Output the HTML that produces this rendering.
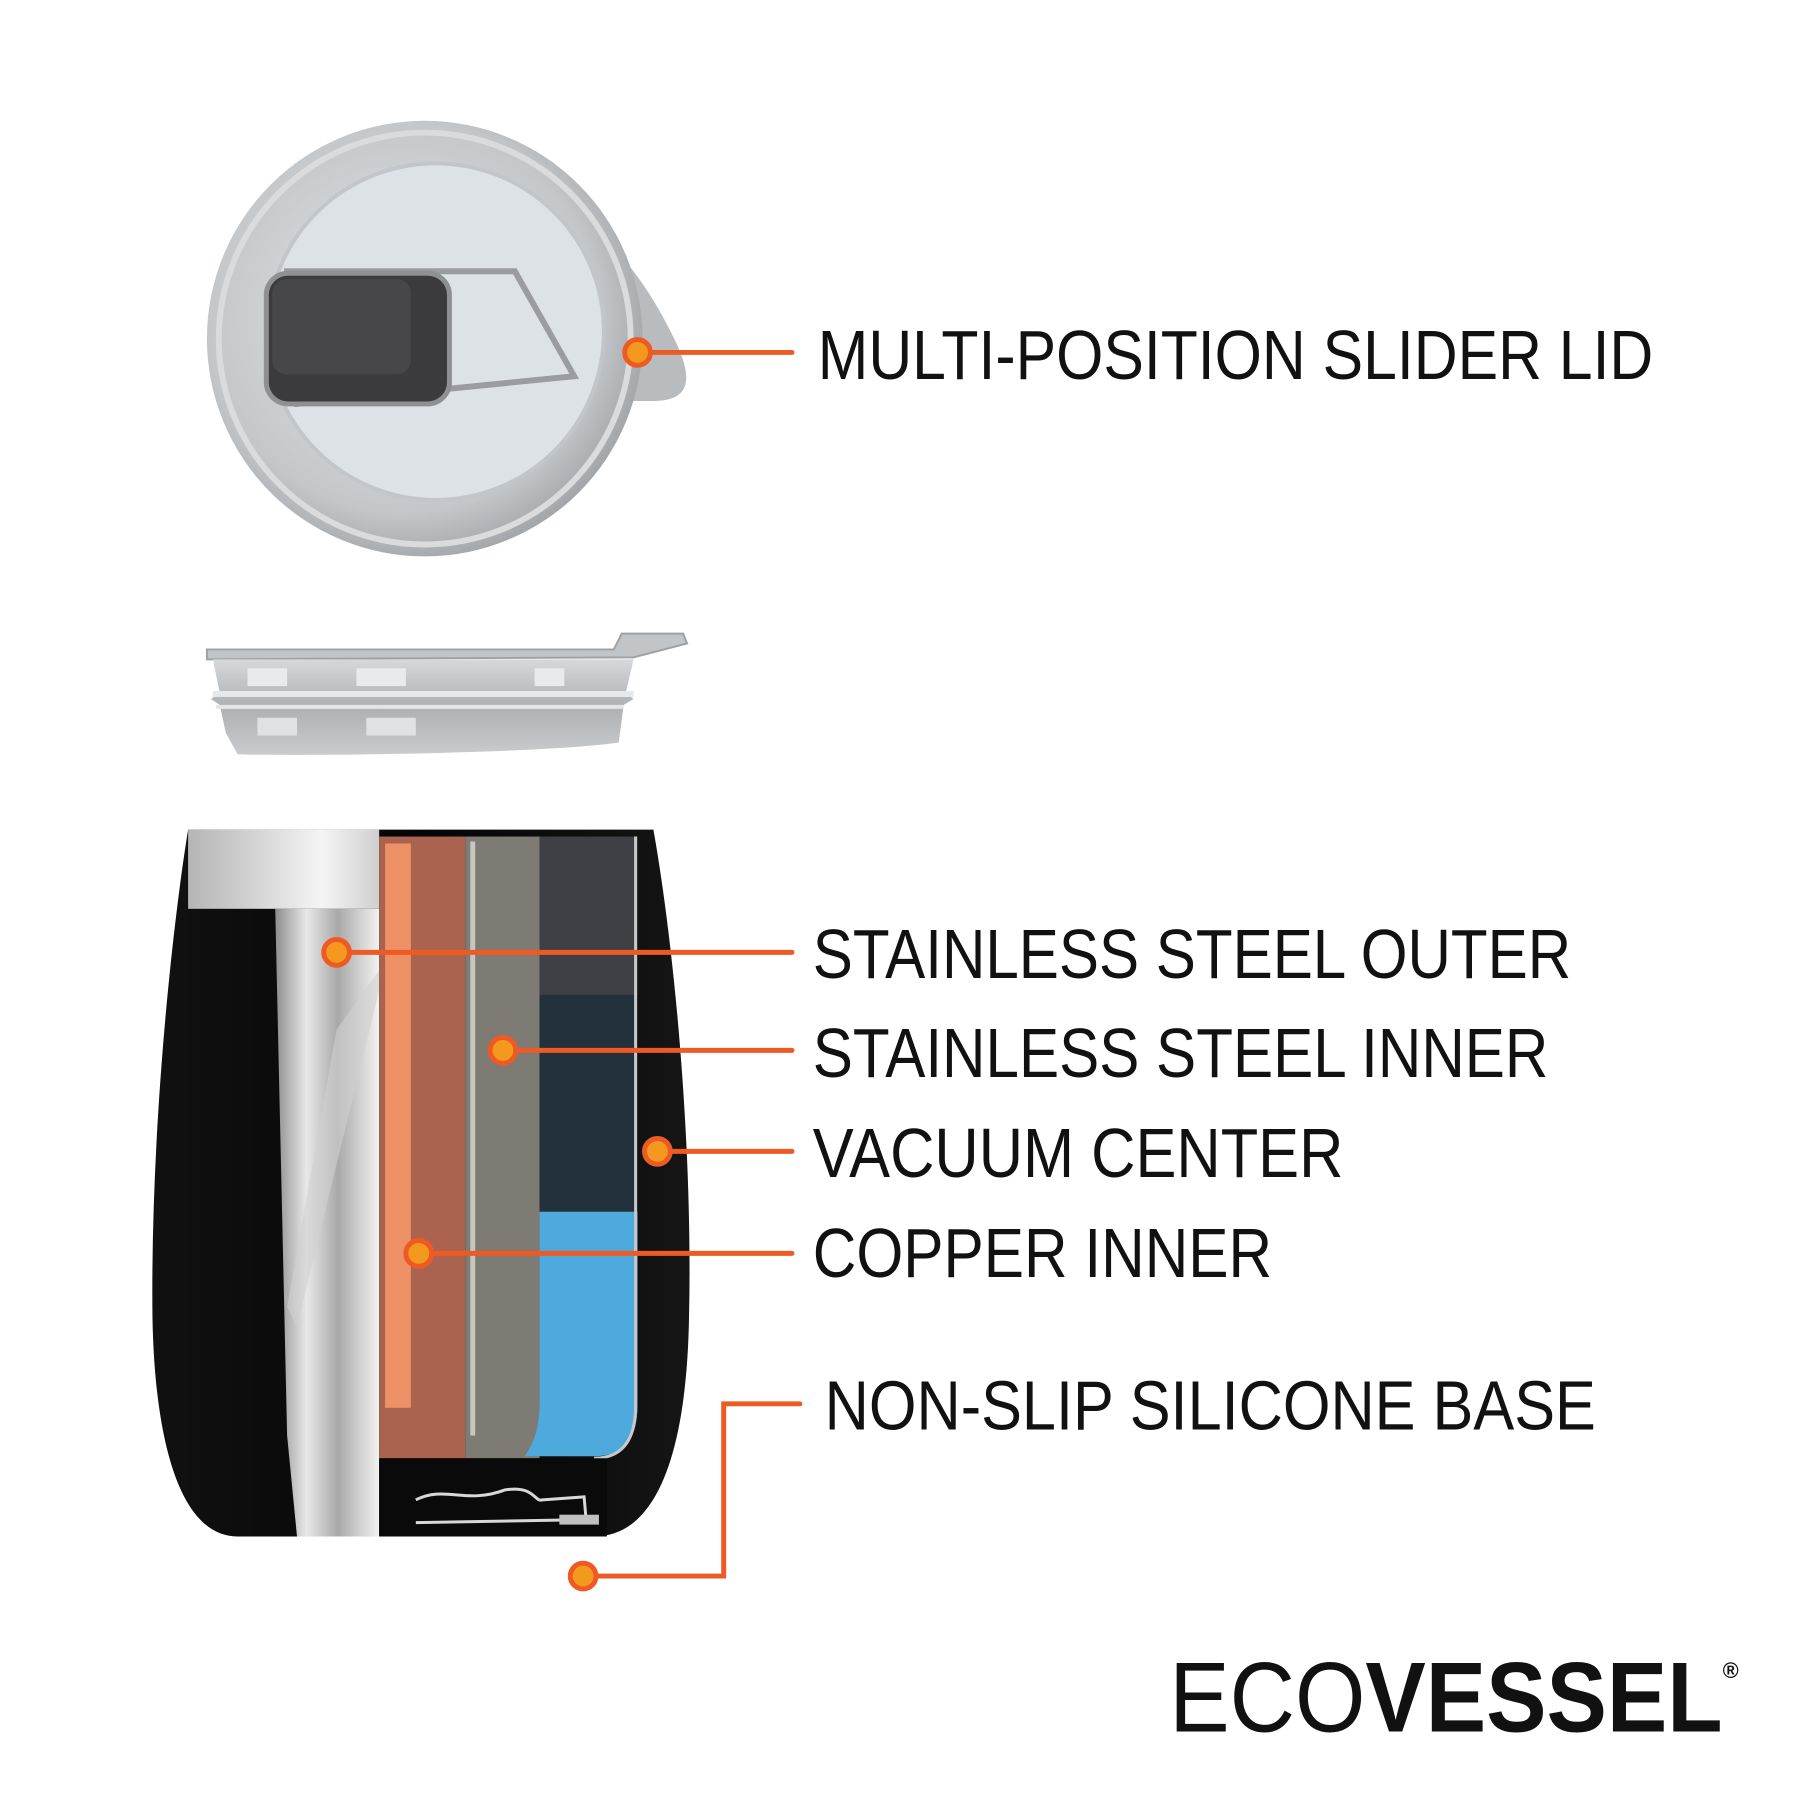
<!DOCTYPE html>
<html><head><meta charset="utf-8"><style>
html,body{margin:0;padding:0;background:#fff;}
svg{display:block;}
text{font-family:"Liberation Sans",sans-serif;}
</style></head><body>
<svg width="1800" height="1800" viewBox="0 0 1800 1800" xmlns="http://www.w3.org/2000/svg">
<defs>
<radialGradient id="lidg" cx="0.45" cy="0.45" r="0.6">
<stop offset="0" stop-color="#e4e6e8"/><stop offset="0.75" stop-color="#c4c7ca"/><stop offset="1" stop-color="#9a9da1"/></radialGradient>
<linearGradient id="silv" x1="0" x2="1" y1="0" y2="0">
<stop offset="0" stop-color="#8d8d8d"/><stop offset="0.3" stop-color="#e8e8e8"/><stop offset="0.6" stop-color="#a9a9a9"/><stop offset="1" stop-color="#f2f2f2"/></linearGradient>
<linearGradient id="band" x1="0" x2="1">
<stop offset="0" stop-color="#b5b5b5"/><stop offset="0.4" stop-color="#d8d8d8"/><stop offset="0.7" stop-color="#f5f5f5"/><stop offset="1" stop-color="#cfcfcf"/></linearGradient>
<linearGradient id="side" x1="0" x2="0" y1="0" y2="1">
<stop offset="0" stop-color="#d6d8da"/><stop offset="0.5" stop-color="#aeb1b4"/><stop offset="1" stop-color="#c9cbcd"/></linearGradient>
<linearGradient id="blk" x1="0" x2="1">
<stop offset="0" stop-color="#111"/><stop offset="0.5" stop-color="#050505"/><stop offset="1" stop-color="#151515"/></linearGradient>
</defs>
<g transform="scale(0.99)">
<!-- Top lid view -->
<path d="M610,240 C640,270 660,300 680,340 C700,380 700,405 660,405 L600,405 Z" fill="#b9bcbf"/>
<circle cx="429" cy="342" r="220" fill="url(#lidg)"/>
<circle cx="429" cy="342" r="208" fill="none" stroke="#d9dbdd" stroke-width="6"/>
<circle cx="440" cy="335" r="170" fill="#dde2e6"/>
<circle cx="440" cy="335" r="170" fill="none" stroke="#c2c6ca" stroke-width="4"/>
<path d="M290,274 L520,274 L580,380 L300,408 Z" fill="none" stroke="#9a9c9f" stroke-width="6"/>
<rect x="269" y="276" width="185" height="132" rx="22" fill="#3b3b3d" stroke="#8e9093" stroke-width="5"/>
<rect x="275" y="282" width="140" height="96" rx="14" fill="#474749"/>
<line x1="644" y1="356" x2="800" y2="356" stroke="#ee5a24" stroke-width="5" stroke-linecap="round"/>
<circle cx="644" cy="356" r="13" fill="#f39a1e" stroke="#ee5a24" stroke-width="5"/>

<!-- Side lid view -->
<path d="M209,656 L620,656 L628,640 L690,640 L694,650 L640,664 L209,666 Z" fill="#c2c5c8" stroke="#9ea1a4" stroke-width="2"/>
<path d="M215,666 L640,666 L632,700 L640,706 L630,712 L625,750 C560,760 340,764 240,762 L228,740 L222,712 L213,706 L222,700 Z" fill="url(#side)"/>
<rect x="215" y="698" width="425" height="6" fill="#e6e8ea"/>
<rect x="218" y="712" width="412" height="4" fill="#e3e5e7"/>
<rect x="250" y="675" width="40" height="18" fill="#e8eaec"/><rect x="360" y="675" width="50" height="18" fill="#e8eaec"/><rect x="540" y="675" width="30" height="18" fill="#e8eaec"/>
<rect x="260" y="725" width="40" height="18" fill="#dfe1e3"/><rect x="370" y="725" width="50" height="18" fill="#dfe1e3"/>

<!-- Cup -->
<path d="M190,838 L660,838 C680,950 700,1150 696,1330 C694,1450 670,1552 600,1552 L240,1552 C180,1552 156,1450 154,1330 C152,1150 172,950 190,838 Z" fill="url(#blk)"/>
<rect x="190" y="838" width="193" height="80" fill="url(#band)"/>
<path d="M278,918 L383,918 L383,1552 L300,1552 L290,1450 Z" fill="url(#silv)"/>
<path d="M340,1040 L383,980 L383,1000 L300,1340 L290,1320 Z" fill="#d0d0d0" opacity="0.6"/>
<rect x="383" y="845" width="87" height="628" fill="#a9634f"/>
<rect x="389" y="852" width="26" height="570" fill="#ef9167"/>
<rect x="470" y="845" width="75" height="628" fill="#7e7b75"/>
<rect x="475" y="850" width="5" height="600" fill="#c9c6bf"/>
<rect x="545" y="845" width="99" height="160" fill="#3e4045"/>
<rect x="545" y="1005" width="99" height="220" fill="#23313d"/>
<path d="M545,1224 L644,1224 L644,1420 Q644,1471 600,1471 L530,1471 Q545,1450 545,1420 Z" fill="#4ea9dc"/>
<path d="M642,845 L642,1420 Q642,1473 600,1473" fill="none" stroke="#c8c8c8" stroke-width="3"/>
<rect x="383" y="1473" width="230" height="79" fill="#0a0a0a"/>
<path d="M420,1515 C450,1500 470,1520 510,1505 C540,1500 540,1518 548,1515 L590,1512 L592,1535 L420,1538" fill="none" stroke="#d8d8d8" stroke-width="3"/>
<rect x="565" y="1530" width="40" height="10" fill="#c0c0c0"/>

<g stroke="#ee5a24" stroke-width="5" stroke-linecap="round" fill="none">
<line x1="340" y1="962" x2="800" y2="962"/>
<line x1="508" y1="1061" x2="800" y2="1061"/>
<line x1="664" y1="1163" x2="800" y2="1163"/>
<line x1="423" y1="1266" x2="800" y2="1266"/>
<polyline points="589,1592 731,1592 731,1418 808,1418"/>
</g>
<g fill="#f39a1e" stroke="#ee5a24" stroke-width="5">
<circle cx="340" cy="962" r="13"/><circle cx="508" cy="1061" r="13"/><circle cx="664" cy="1163" r="13"/><circle cx="423" cy="1266" r="13"/><circle cx="589" cy="1592" r="13"/>
</g>

<g font-size="70" fill="#111">
<text x="826" y="383" textLength="844" lengthAdjust="spacingAndGlyphs">MULTI-POSITION SLIDER LID</text>
<text x="821" y="988" textLength="766" lengthAdjust="spacingAndGlyphs">STAINLESS STEEL OUTER</text>
<text x="821" y="1088" textLength="743" lengthAdjust="spacingAndGlyphs">STAINLESS STEEL INNER</text>
<text x="821" y="1189" textLength="536" lengthAdjust="spacingAndGlyphs">VACUUM CENTER</text>
<text x="821" y="1290" textLength="464" lengthAdjust="spacingAndGlyphs">COPPER INNER</text>
<text x="833" y="1444" textLength="779" lengthAdjust="spacingAndGlyphs">NON-SLIP SILICONE BASE</text>
</g>
<text x="1181" y="1749" font-size="100" fill="#111" textLength="559" lengthAdjust="spacingAndGlyphs"><tspan font-weight="normal">ECO</tspan><tspan font-weight="bold">VESSEL</tspan></text>
<text x="1740" y="1695" font-size="22" font-weight="bold" fill="#111">®</text>
</g>
</svg>
</body></html>
